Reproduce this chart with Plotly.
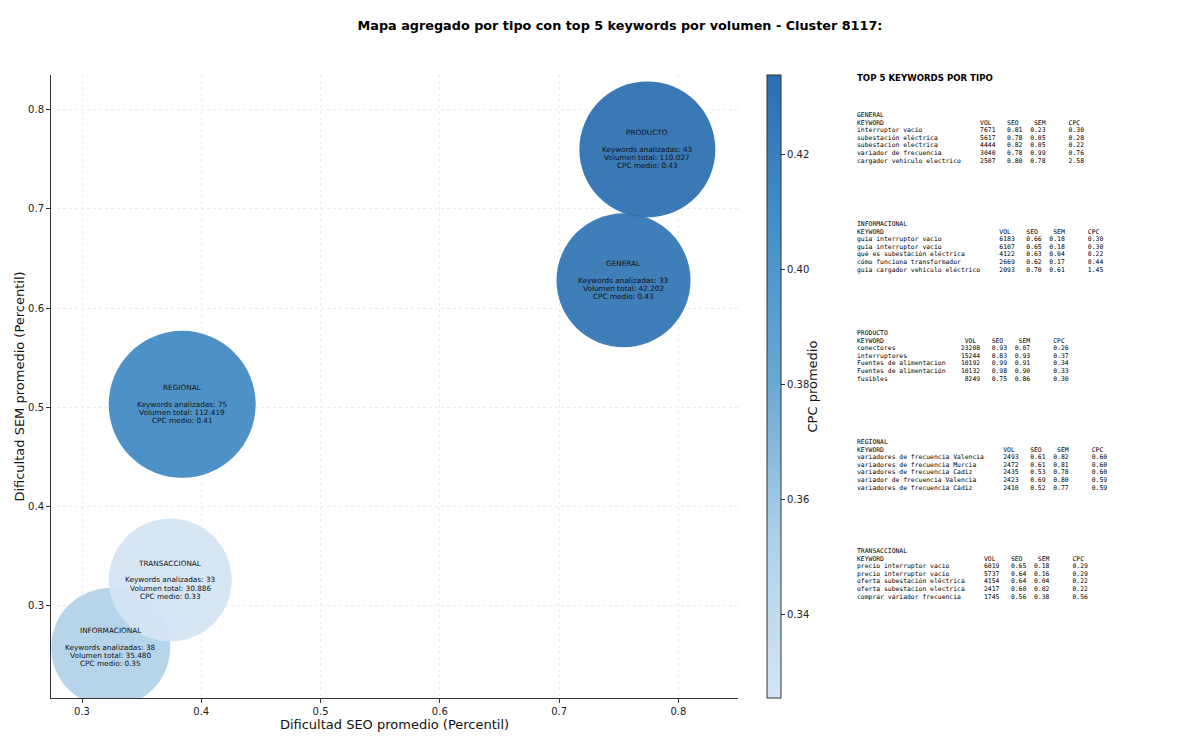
#!/usr/bin/env python3
"""Mapa agregado por tipo (burbujas) + panel de top 5 keywords por tipo."""

import plotly.graph_objects as go

# ─── Datos agregados por tipo ─────────────────────────────
TIPOS = ["GENERAL", "INFORMACIONAL", "PRODUCTO", "REGIONAL", "TRANSACCIONAL"]
SEO_MEDIO = [0.754, 0.324, 0.774, 0.384, 0.374]
SEM_MEDIO = [0.628, 0.258, 0.760, 0.503, 0.326]
CPC_MEDIO = [0.429, 0.352, 0.4338, 0.412, 0.3254]
N_KEYWORDS = [33, 38, 43, 75, 33]
VOLUMEN_TOTAL = [42202, 35480, 110027, 112419, 30886]

# ─── Top 5 keywords por tipo ──────────────────────────────
TOP_GENERAL = ["interruptor vacío", "subestación eléctrica", "subestacion electrica",
               "variador de frecuencia", "cargador vehiculo electrico"]
VOL_GENERAL = [7671, 5617, 4444, 3040, 2507]
SEO_GENERAL = [0.81, 0.78, 0.82, 0.78, 0.80]
SEM_GENERAL = [0.23, 0.05, 0.05, 0.99, 0.78]
CPC_GENERAL = [0.30, 0.28, 0.22, 0.76, 2.58]

TOP_INFORMACIONAL = ["guia interruptor vacio", "guía interruptor vacío",
                     "qué es subestación eléctrica", "cómo funciona transformador",
                     "guía cargador vehiculo eléctrico"]
VOL_INFORMACIONAL = [6183, 6107, 4122, 2669, 2093]
SEO_INFORMACIONAL = [0.66, 0.65, 0.63, 0.62, 0.70]
SEM_INFORMACIONAL = [0.18, 0.18, 0.04, 0.17, 0.61]
CPC_INFORMACIONAL = [0.30, 0.30, 0.22, 0.44, 1.45]

TOP_PRODUCTO = ["conectores", "interruptores", "Fuentes de alimentacion",
                "Fuentes de alimentación", "fusibles"]
VOL_PRODUCTO = [23208, 15244, 10192, 10132, 8249]
SEO_PRODUCTO = [0.93, 0.83, 0.99, 0.98, 0.75]
SEM_PRODUCTO = [0.07, 0.93, 0.91, 0.90, 0.86]
CPC_PRODUCTO = [0.26, 0.37, 0.34, 0.33, 0.30]

TOP_REGIONAL = ["variadores de frecuencia Valencia", "variadores de frecuencia Murcia",
                "variadores de frecuencia Cadiz", "variador de frecuencia Valencia",
                "variadores de frecuencia Cádiz"]
VOL_REGIONAL = [2493, 2472, 2435, 2423, 2410]
SEO_REGIONAL = [0.61, 0.61, 0.53, 0.69, 0.52]
SEM_REGIONAL = [0.82, 0.81, 0.78, 0.80, 0.77]
CPC_REGIONAL = [0.60, 0.60, 0.60, 0.59, 0.59]

TOP_TRANSACCIONAL = ["precio interruptor vacio", "precio interruptor vacío",
                     "oferta subestación eléctrica", "oferta subestacion electrica",
                     "comprar variador frecuencia"]
VOL_TRANSACCIONAL = [6019, 5737, 4154, 2417, 1745]
SEO_TRANSACCIONAL = [0.65, 0.64, 0.64, 0.60, 0.56]
SEM_TRANSACCIONAL = [0.18, 0.16, 0.04, 0.02, 0.38]
CPC_TRANSACCIONAL = [0.29, 0.29, 0.22, 0.22, 0.56]

# ─── Estilo ───────────────────────────────────────────────
BUBBLE_DIAM = [134, 119, 136, 147, 123]   # px, por tipo
COLORSCALE = [[0.0, "#d4e4f4"], [0.25, "#b0d2e8"], [0.5, "#6ba9d6"],
              [0.75, "#4690c8"], [1.0, "#2c6eb0"]]
FONT = "DejaVu Sans"
MONO = "DejaVu Sans Mono"

OFF = 8   # margen del body en la página
W, H = 1200 - OFF, 745 - OFF
ML, MT = 51 - OFF, 75 - OFF
MR, MB = W - (738 - OFF), H - (698 - OFF)
PW, PH = W - ML - MR, H - MT - MB


def px_x(px):
    """Coordenada x de la página -> fracción paper."""
    return (px - OFF - ML) / PW


def px_y(py):
    """Coordenada y de la página -> fracción paper."""
    return (H - MB - (py - OFF)) / PH


def fmt_miles(n):
    return f"{n:,}".replace(",", ".")


fig = go.Figure()

fig.add_trace(go.Scatter(
    x=SEO_MEDIO, y=SEM_MEDIO, mode="markers",
    marker=dict(
        size=BUBBLE_DIAM, sizemode="diameter",
        color=CPC_MEDIO, colorscale=COLORSCALE, opacity=0.93,
        line=dict(width=0),
        colorbar=dict(
            x=px_x(767), xanchor="left", xpad=0, ypad=0,
            y=0.5, yanchor="middle", len=1, lenmode="fraction",
            thickness=14, outlinewidth=1, outlinecolor="#333",
            tick0=0.34, dtick=0.02, tickformat=".2f",
            ticks="outside", ticklen=4, tickcolor="#333",
            tickfont=dict(family=FONT, size=10, color="#222"),
        ),
    ),
    hoverinfo="skip", showlegend=False,
))

annotations = []

# Texto dentro de cada burbuja
for i, tipo in enumerate(TIPOS):
    lines = [
        (tipo, 16.5),
        (f"Keywords analizadas: {N_KEYWORDS[i]}", 0),
        (f"Volumen total: {fmt_miles(VOLUMEN_TOTAL[i])}", -8.25),
        (f"CPC medio: {CPC_MEDIO[i]:.2f}", -16.5),
    ]
    for txt, shift in lines:
        annotations.append(dict(
            x=SEO_MEDIO[i], y=SEM_MEDIO[i], xref="x", yref="y",
            text=txt, showarrow=False, yshift=shift,
            xanchor="center", yanchor="middle",
            font=dict(family=FONT, size=7.3, color="#111"),
        ))

# Título de la barra de color
annotations.append(dict(
    x=px_x(812), y=0.5, xref="paper", yref="paper",
    text="CPC promedio", textangle=-90, showarrow=False,
    xanchor="center", yanchor="middle",
    font=dict(family=FONT, size=13, color="#111"),
))

# Panel de texto de la derecha
annotations.append(dict(
    x=px_x(855), y=px_y(78), xref="paper", yref="paper",
    text="<b>TOP 5 KEYWORDS POR TIPO</b>", showarrow=False,
    xanchor="left", yanchor="middle",
    font=dict(family=FONT, size=8.6, color="#000"),
))

blocks = [
    ("GENERAL", TOP_GENERAL, VOL_GENERAL, SEO_GENERAL, SEM_GENERAL, CPC_GENERAL),
    ("INFORMACIONAL", TOP_INFORMACIONAL, VOL_INFORMACIONAL, SEO_INFORMACIONAL,
     SEM_INFORMACIONAL, CPC_INFORMACIONAL),
    ("PRODUCTO", TOP_PRODUCTO, VOL_PRODUCTO, SEO_PRODUCTO, SEM_PRODUCTO, CPC_PRODUCTO),
    ("REGIONAL", TOP_REGIONAL, VOL_REGIONAL, SEO_REGIONAL, SEM_REGIONAL, CPC_REGIONAL),
    ("TRANSACCIONAL", TOP_TRANSACCIONAL, VOL_TRANSACCIONAL, SEO_TRANSACCIONAL,
     SEM_TRANSACCIONAL, CPC_TRANSACCIONAL),
]

for b, (name, kws, vols, seos, sems, cpcs) in enumerate(blocks):
    w = max(len(k) for k in kws) + 4
    rows = [name, f"{'KEYWORD':<{w}}{'VOL':>4}{'SEO':>7}{'SEM':>7}{'CPC':>9}"]
    for k, v, s1, s2, c in zip(kws, vols, seos, sems, cpcs):
        rows.append(f"{k:<{w}}{v:>5}{s1:>7.2f}{s2:>6.2f}{c:>10.2f}")
    y0 = 115 + 109 * b
    for j, row in enumerate(rows):
        annotations.append(dict(
            x=px_x(855), y=px_y(y0 + 7.6 * j), xref="paper", yref="paper",
            text=row.replace(" ", "&nbsp;"), showarrow=False,
            xanchor="left", yanchor="middle",
            font=dict(family=MONO, size=6.4, color="#000"),
        ))

fig.update_layout(
    width=W, height=H,
    paper_bgcolor="white", plot_bgcolor="white",
    margin=dict(l=ML, r=MR, t=MT, b=MB),
    title=dict(
        text="<b>Mapa agregado por tipo con top 5 keywords por volumen - Cluster 8117:</b>",
        x=(620 - OFF) / W, xanchor="center", y=1 - (26 - OFF) / H, yanchor="middle",
        font=dict(family=FONT, size=12.8, color="#000"),
    ),
    annotations=annotations,
    font=dict(family=FONT),
)

axis_common = dict(
    showgrid=True, gridcolor="#ececec", griddash="3px,3px", gridwidth=0.8,
    zeroline=False, showline=True, linecolor="#333", linewidth=1,
    ticks="outside", ticklen=4, tickcolor="#333",
    tickfont=dict(family=FONT, size=10, color="#222"),
    dtick=0.1, tick0=0.3, tickformat=".1f",
)
fig.update_xaxes(range=[0.274, 0.850], **axis_common,
                 title=dict(text="Dificultad SEO promedio (Percentil)", standoff=0,
                            font=dict(family=FONT, size=13, color="#111")))
fig.update_yaxes(range=[0.207, 0.835], **axis_common,
                 title=dict(text="Dificultad SEM promedio (Percentil)", standoff=0,
                            font=dict(family=FONT, size=13, color="#111")))

fig.write_html("out.html")
